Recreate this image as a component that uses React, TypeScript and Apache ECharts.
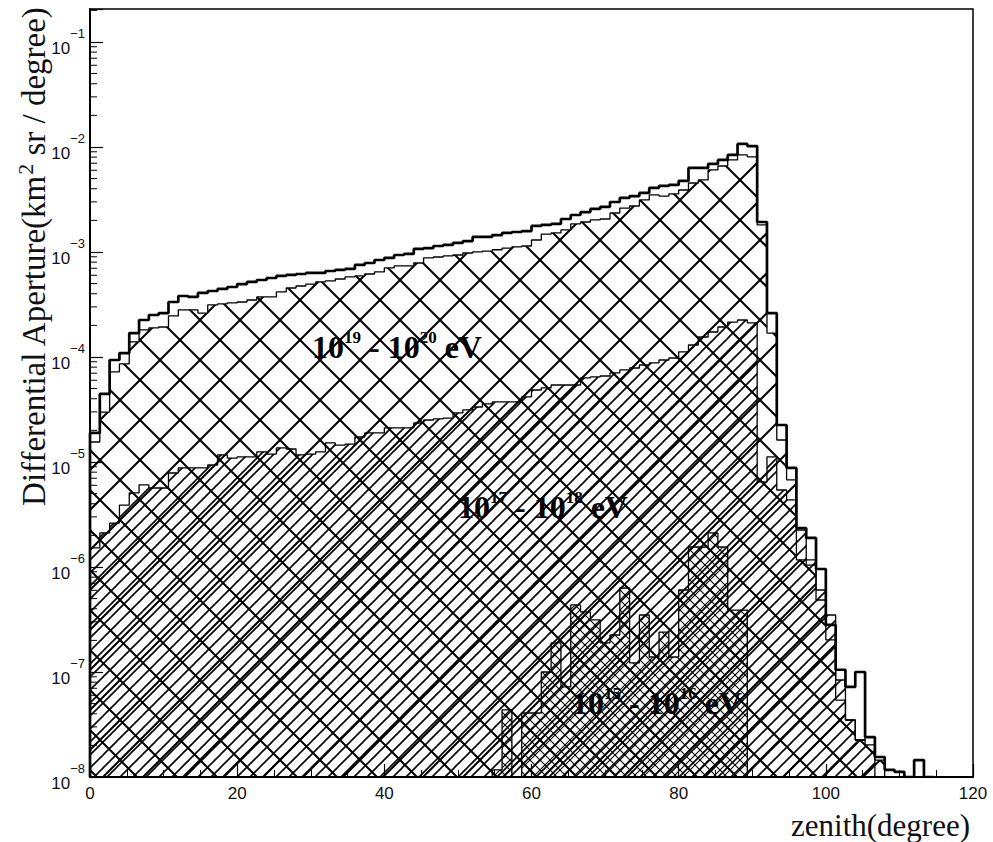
import React, { useEffect, useRef } from "react";
import * as echarts from "echarts";

// ---------------- data ----------------
const BIN_WIDTH = 120 / 90; // degrees per histogram bin
const FLOOR = 1e-8; // bottom of the log axis (empty bins)

// 10^19 - 10^20 eV : thick outline (bins from 0°)
const thickValues = [
  1.89e-5, 4.45e-5, 9.36e-5, 1.09e-4, 1.69e-4, 2.25e-4, 2.51e-4, 2.62e-4, 3.34e-4, 3.81e-4,
  3.73e-4, 4.07e-4, 4.25e-4, 4.45e-4, 4.64e-4, 4.95e-4, 5.18e-4, 5.41e-4, 5.65e-4, 5.91e-4,
  6.04e-4, 6.17e-4, 6.31e-4, 6.31e-4, 6.59e-4, 6.74e-4, 6.89e-4, 7.52e-4, 7.85e-4, 8.39e-4,
  8.77e-4, 9.36e-4, 9.57e-4, 1.07e-3, 1.09e-3, 1.14e-3, 1.17e-3, 1.22e-3, 1.27e-3, 1.39e-3,
  1.39e-3, 1.45e-3, 1.52e-3, 1.55e-3, 1.58e-3, 1.77e-3, 1.81e-3, 1.85e-3, 2.06e-3, 2.25e-3,
  2.4e-3, 2.57e-3, 2.69e-3, 2.99e-3, 3.27e-3, 3.41e-3, 3.65e-3, 4.07e-3, 4.26e-3, 4.35e-3,
  4.75e-3, 6.31e-3, 6.31e-3, 6.89e-3, 7.52e-3, 8.39e-3, 1.07e-2, 1.02e-2, 1.93e-3, 2.62e-4,
  2.25e-5, 8.77e-6, 2.35e-6, 1.89e-6, 9.57e-7, 2.81e-7, 1.05e-7, 7.2e-8, 1.0e-7, 2.4e-8,
  1.55e-8, 1.17e-8, 1.12e-8, 0, 1.45e-8, 0,
];

// crosshatched histogram (thin outline just below the thick one)
const crossValues = [
  1.55e-5, 2.99e-5, 7.2e-5, 8.58e-5, 1.39e-4, 1.81e-4, 1.89e-4, 1.93e-4, 2.46e-4, 2.81e-4,
  2.81e-4, 2.62e-4, 3.13e-4, 3.2e-4, 3.28e-4, 3.34e-4, 3.49e-4, 3.73e-4, 3.73e-4, 4.16e-4,
  4.54e-4, 4.74e-4, 4.95e-4, 5.18e-4, 5.3e-4, 5.53e-4, 5.78e-4, 5.91e-4, 6.17e-4, 6.46e-4,
  7.05e-4, 7.36e-4, 7.36e-4, 7.85e-4, 8.77e-4, 8.96e-4, 9.16e-4, 9.36e-4, 9.78e-4, 1.0e-3,
  1.02e-3, 1.05e-3, 1.09e-3, 1.12e-3, 1.14e-3, 1.3e-3, 1.48e-3, 1.52e-3, 1.62e-3, 1.85e-3,
  1.93e-3, 2.02e-3, 2.06e-3, 2.35e-3, 2.62e-3, 2.74e-3, 3.13e-3, 3.49e-3, 3.41e-3, 3.57e-3,
  3.89e-3, 4.54e-3, 4.85e-3, 6.04e-3, 6.59e-3, 7.52e-3, 8.39e-3, 8.03e-3, 1.81e-3, 1.69e-4,
  1.62e-5, 6.74e-6, 1.17e-6, 1.04e-6, 4.85e-7, 2.02e-7, 5.4e-8, 3.49e-8, 2.25e-8, 2.4e-8,
  1.45e-8, 0,
];

// 10^17 - 10^18 eV : diagonal hatching
const diagValues = [
  1.52e-6, 2.11e-6, 2.62e-6, 3.89e-6, 5.07e-6, 6.04e-6, 5.65e-6, 5.65e-6, 7.85e-6, 8.77e-6,
  8.77e-6, 8.77e-6, 9.36e-6, 1.17e-5, 1.09e-5, 1.12e-5, 1.12e-5, 1.25e-5, 1.19e-5, 1.36e-5,
  1.33e-5, 1.17e-5, 1.19e-5, 1.25e-5, 1.52e-5, 1.45e-5, 1.48e-5, 1.73e-5, 1.89e-5, 1.89e-5,
  2.11e-5, 2.11e-5, 2.11e-5, 2.35e-5, 2.51e-5, 2.57e-5, 2.62e-5, 2.93e-5, 3.13e-5, 3.34e-5,
  3.57e-5, 3.73e-5, 3.73e-5, 3.73e-5, 4.16e-5, 4.85e-5, 5.07e-5, 5.41e-5, 5.41e-5, 5.41e-5,
  6.31e-5, 6.46e-5, 6.59e-5, 7.05e-5, 7.52e-5, 7.85e-5, 8.39e-5, 8.77e-5, 9.36e-5, 9.78e-5,
  1.12e-4, 1.3e-4, 1.55e-4, 1.73e-4, 1.93e-4, 2.15e-4, 2.25e-4, 2.11e-4, 6.46e-6, 1.12e-5,
  5.41e-6, 4.35e-6, 2.25e-6, 1.17e-6, 6.04e-7, 3.49e-7, 8.39e-8, 3.49e-8, 2.25e-8, 2.02e-8,
  0,
];

// 10^15 - 10^16 eV : fine crosshatch, starting at bin 41
const fineStartBin = 41;
const fineValues = [
  1.17e-8, 4.35e-8, 0, 4.07e-8, 4.07e-8, 1.0e-7, 1.89e-7, 7.2e-8, 4.35e-7, 3.73e-7,
  3.13e-7, 1.89e-7, 2.25e-7, 6.31e-7, 1.22e-7, 3.49e-7, 1.39e-7, 2.4e-7, 1.39e-7, 6.04e-7,
  1.55e-6, 1.55e-6, 2.11e-6, 1.55e-6, 3.89e-7, 3.89e-7, 0,
];

const xMin = 0;
const xMax = 120;
const xInterval = 20;
const yMin = 1e-8;
const yMax = 0.206;
const decadeExponents = [-8, -7, -6, -5, -4, -3, -2, -1];
const minorMultipliers = [2, 3, 4, 5, 6, 7, 8, 9];

const yTitle = ["Differential Aperture(km", "2", " sr / degree)"];
const xTitle = "zenith(degree)";
const energyLabels = [
  ["19", "20"],
  ["17", "18"],
  ["15", "16"],
];

// ---------------- helpers ----------------
function histPoints(values: number[], startBin = 0): [number, number][] {
  const pts: [number, number][] = [];
  pts.push([startBin * BIN_WIDTH, FLOOR]);
  values.forEach((v, i) => pts.push([(startBin + i) * BIN_WIDTH, v > 0 ? v : FLOOR]));
  pts.push([(startBin + values.length) * BIN_WIDTH, FLOOR]);
  return pts;
}

function makeHatch(period: number, lineWidth: number, forward: boolean, backward: boolean) {
  const c = document.createElement("canvas");
  c.width = period;
  c.height = period;
  const ctx = c.getContext("2d")!;
  ctx.strokeStyle = "#000";
  ctx.lineWidth = lineWidth;
  for (const k of [0, period, 2 * period]) {
    if (forward) {
      ctx.beginPath();
      ctx.moveTo(-2, k + 2);
      ctx.lineTo(k + 2, -2);
      ctx.stroke();
    }
    if (backward) {
      ctx.beginPath();
      ctx.moveTo(period + 2, k + 2);
      ctx.lineTo(period - k - 2, -2);
      ctx.stroke();
    }
  }
  return { image: c.toDataURL(), repeat: "repeat", imageWidth: period, imageHeight: period };
}

const SERIF = "'Liberation Serif', 'Times New Roman', serif";
const SANS = "'Liberation Sans', Arial, sans-serif";

function energyText(lo: string, hi: string) {
  return `{m|10}{s|${lo}}{m| - 10}{s|${hi}}{m| eV}`;
}

const energyRich = {
  m: { fontFamily: SERIF, fontWeight: "bold", fontSize: 32, lineHeight: 34, verticalAlign: "bottom", fill: "#000" },
  s: { fontFamily: SERIF, fontWeight: "bold", fontSize: 17, lineHeight: 18, verticalAlign: "top", fill: "#000" },
};

export default function App() {
  const ref = useRef<HTMLDivElement>(null);

  useEffect(() => {
    if (!ref.current) return;
    const chart = echarts.init(ref.current, undefined, { renderer: "svg" });

    const hatchCross = makeHatch(40, 2, true, true);
    const hatchDiag = makeHatch(13, 1.6, true, false);
    const hatchFine = makeHatch(10, 1.1, true, true);

    const minorTicks: [number, number][] = [];
    decadeExponents.forEach((e) =>
      minorMultipliers.forEach((m) => {
        const v = m * Math.pow(10, e);
        if (v < yMax) minorTicks.push([0, v]);
      })
    );

    const histSeries = (name: string, data: [number, number][], width: number, pattern: any, z: number) => ({
      name,
      type: "line",
      step: "end",
      data,
      symbol: "none",
      z,
      lineStyle: { color: "#000", width },
      areaStyle: pattern ? { color: pattern, opacity: 1, origin: "start" } : undefined,
      silent: true,
    });

    const option: any = {
      animation: false,
      backgroundColor: "#fff",
      grid: {
        left: 90,
        top: 9,
        width: 883,
        height: 768,
        show: true,
        borderColor: "#000",
        borderWidth: 1.5,
        backgroundColor: "transparent",
      },
      xAxis: {
        type: "value",
        min: xMin,
        max: xMax,
        interval: xInterval,
        axisLine: { lineStyle: { color: "#000", width: 2 } },
        axisTick: { inside: true, length: 13, lineStyle: { color: "#000", width: 1.2 } },
        minorTick: { show: true, splitNumber: 4, length: 7, lineStyle: { color: "#000", width: 1 } },
        splitLine: { show: false },
        axisLabel: { fontFamily: SANS, fontSize: 17, color: "#111", margin: 8 },
      },
      yAxis: {
        type: "log",
        logBase: 10,
        min: yMin,
        max: yMax,
        splitNumber: 8,
        axisLine: { lineStyle: { color: "#000", width: 2 } },
        axisTick: { inside: true, length: 13, lineStyle: { color: "#000", width: 1.2 } },
        splitLine: { show: false },
        axisLabel: {
          margin: 5,
          formatter: (v: number) => {
            const l = Math.log10(v);
            const e = Math.round(l);
            if (Math.abs(l - e) > 1e-6) return "";
            return `{b|10}{s|\u2212${-e}}`;
          },
          rich: {
            b: { fontFamily: SANS, fontSize: 17, color: "#111", lineHeight: 30, verticalAlign: "bottom" },
            s: { fontFamily: SANS, fontSize: 13, color: "#111", lineHeight: 10, verticalAlign: "top" },
          },
        },
      },
      series: [
        histSeries("cross", histPoints(crossValues), 1.3, hatchCross, 2),
        histSeries("diag", histPoints(diagValues), 1.3, hatchDiag, 3),
        histSeries("fine", histPoints(fineValues, fineStartBin), 1.3, hatchFine, 4),
        histSeries("thick", histPoints(thickValues), 2.7, null, 5),
        {
          type: "custom",
          data: minorTicks,
          clip: false,
          silent: true,
          z: 6,
          renderItem: (params: any, api: any) => {
            const p = api.coord([api.value(0), api.value(1)]);
            return {
              type: "line",
              shape: { x1: p[0], y1: p[1], x2: p[0] + 7, y2: p[1] },
              style: { stroke: "#000", lineWidth: 1 },
            };
          },
        },
      ],
      graphic: [
        {
          type: "text",
          x: 32,
          y: 257,
          rotation: Math.PI / 2,
          z: 10,
          style: {
            text: `{t|${yTitle[0]}}{u|${yTitle[1]}}{t|${yTitle[2]}}`,
            align: "center",
            verticalAlign: "middle",
            textAlign: "center",
            textVerticalAlign: "middle",
            rich: {
              t: { fontFamily: SERIF, fontSize: 33, lineHeight: 36, verticalAlign: "bottom", fill: "#111" },
              u: { fontFamily: SERIF, fontSize: 22, lineHeight: 22, verticalAlign: "top", fill: "#111" },
            },
          },
        },
        {
          type: "text",
          x: 970,
          y: 825,
          z: 10,
          style: {
            text: xTitle,
            font: `31px ${SERIF}`,
            fill: "#111",
            align: "right",
            verticalAlign: "middle",
            textAlign: "right",
            textVerticalAlign: "middle",
          },
        },
        ...[
          [312, 346],
          [458, 506],
          [572, 702],
        ].map((pos, i) => ({
          type: "text",
          x: pos[0],
          y: pos[1],
          z: 10,
          style: {
            text: energyText(energyLabels[i][0], energyLabels[i][1]),
            align: "left",
            verticalAlign: "middle",
            textAlign: "left",
            textVerticalAlign: "middle",
            rich: energyRich,
          },
        })),
      ],
    };

    chart.setOption(option);
    return () => chart.dispose();
  }, []);

  return (
    <div
      ref={ref}
      style={{ position: "absolute", left: 0, top: 0, width: 993, height: 842, background: "#fff" }}
    />
  );
}
